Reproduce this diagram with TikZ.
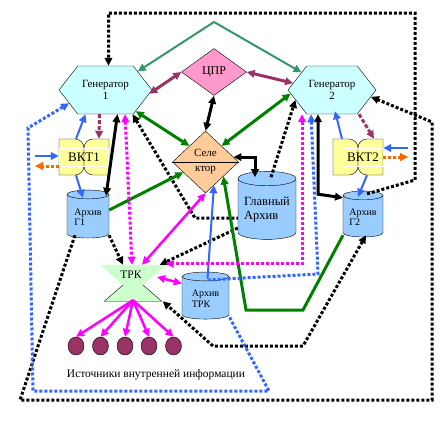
\documentclass[tikz,border=0pt]{standalone}
\usepackage{fontspec}
\setmainfont{Liberation Serif}
\usepackage{tikz}
\usetikzlibrary{shapes.geometric,shapes.symbols,arrows.meta}
\definecolor{gencyan}{HTML}{CCFFFF}
\definecolor{cprpink}{HTML}{FF99CC}
\definecolor{selpeach}{HTML}{FFCC99}
\definecolor{vktyellow}{HTML}{FFFF99}
\definecolor{arcblue}{HTML}{99CCFF}
\definecolor{trkgreen}{HTML}{CCFFCC}
\definecolor{plum}{HTML}{993366}
\definecolor{linkteal}{HTML}{339966}
\definecolor{linkgreen}{HTML}{008000}
\definecolor{linkblue}{HTML}{3366FF}
\definecolor{linkmag}{HTML}{FF00FF}
\definecolor{linkorange}{HTML}{FF6600}
\tikzset{>={Triangle[length=8pt,width=7.5pt]}}
\tikzset{
  gen/.style={signal, signal to=east and west, signal pointer angle=104,
    draw, fill=gencyan, minimum width=93pt, minimum height=48pt,
    inner sep=0pt, align=center, font=\fontsize{11}{12.5}\selectfont},
  cprnode/.style={diamond, draw, fill=cprpink, minimum width=65pt,
    minimum height=47pt, inner sep=0pt, font=\fontsize{12}{13}\selectfont},
  selnode/.style={diamond, draw, fill=selpeach, minimum width=66pt,
    minimum height=62pt, inner sep=0pt, align=center,
    font=\fontsize{11}{15}\selectfont},
  vktbox/.style={minimum width=50pt, minimum height=36pt, inner sep=0pt},
  vktfill/.style={draw, fill=vktyellow},
  vkttext/.style={draw=white, minimum height=18pt, inner sep=0pt,
    font=\fontsize{13}{14}\selectfont},
  archive/.style={cylinder, shape border rotate=90, aspect=0.3, draw,
    fill=arcblue, inner sep=1pt, align=left,
    font=\fontsize{10}{10.5}\selectfont},
  trkbox/.style={minimum width=65pt, minimum height=36pt, inner sep=0pt},
  src/.style={ellipse, draw, fill=plum, minimum width=16pt,
    minimum height=18pt, inner sep=0pt},
  lineblack/.style={black, line width=3pt},
  lineblue/.style={linkblue, line width=2pt},
  linegreen/.style={linkgreen, line width=3pt},
  lineteal/.style={linkteal, line width=2pt},
  lineplum/.style={plum, line width=3pt},
  linemag/.style={linkmag, line width=2.5pt},
  dotblack/.style={black, line width=3pt, dash pattern=on 3pt off 2pt},
  dotblue/.style={linkblue, line width=3pt, dash pattern=on 3pt off 2pt},
  dotmag/.style={linkmag, line width=3pt, dash pattern=on 3pt off 2pt},
  dotplum/.style={plum, line width=3pt, dash pattern=on 4pt off 2pt},
  dotorange/.style={linkorange, line width=3pt, dash pattern=on 3pt off 2pt},
}
\newcommand{\vktbody}[1]{%
  \begin{scope}[shift={(#1.center)}]
    \filldraw[vktfill] (-25,18) -- (-9,18) to[out=0,in=90] (0,9) -- (0,-9)
      to[out=-90,in=0] (-9,-18) -- (-25,-18) -- cycle;
    \filldraw[vktfill] (25,18) -- (9,18) to[out=180,in=90] (0,9) -- (0,-9)
      to[out=-90,in=180] (9,-18) -- (25,-18) -- cycle;
  \end{scope}}

\begin{document}
\begin{tikzpicture}[x=1pt,y=1pt]
  \useasboundingbox (0,0) rectangle (443,-432);

  % Nodes
  \node[gen]                       (g1)   at (105.5,-90) {Генератор\\1};
  \node[gen, minimum width=88pt]   (g2)   at (332,-90)   {Генератор\\2};
  \node[cprnode]                   (cpr)  at (214,-72)   {ЦПР};
  \node[selnode]                   (sel)  at (205.5,-162) {Селе\\ктор};
  \draw (sel.west) -- (sel.east);

  \node[vktbox] (vkt1) at (84,-157) {};
  \vktbody{vkt1}
  \node[vkttext, minimum width=49pt] (vkt1t) at (vkt1) {ВКТ1};
  \node[vktbox] (vkt2) at (358,-157) {};
  \vktbody{vkt2}
  \node[vkttext, minimum width=40pt] (vkt2t) at ([xshift=5pt]vkt2.center) {ВКТ2};

  \node[archive, minimum width=42pt, minimum height=48pt] (ag1) at (88,-217) {Архив\\Г1};
  \node[archive, minimum width=58pt, minimum height=68pt,
    font=\fontsize{12.5}{14}\selectfont] (main) at (267,-210) {Главный\\Архив};
  \node[archive, minimum width=40pt, minimum height=46pt] (ag2) at (363,-217) {Архив\\Г2};
  \node[archive, minimum width=47pt, minimum height=47pt] (atrk) at (205.5,-298.5) {Архив\\ТРК};

  \node[trkbox] (trk) at (133,-283) {};
  \fill[trkgreen] (trk.north west) -- (trk.north east)
    -- ([xshift=10pt,yshift=-2pt]trk.center) -- ([xshift=-10pt,yshift=-2pt]trk.center) -- cycle;
  \fill[trkgreen] ([xshift=-10pt,yshift=-2pt]trk.center) -- ([xshift=10pt,yshift=-2pt]trk.center)
    -- ([xshift=-4pt]trk.south east) -- ([xshift=4pt]trk.south west) -- cycle;
  \draw ([xshift=10pt,yshift=-2pt]trk.center) -- ([xshift=-4pt]trk.south east)
    -- ([xshift=4pt]trk.south west) -- ([xshift=-10pt,yshift=-2pt]trk.center);
  \node[font=\fontsize{11.5}{13}\selectfont] (trkt) at ([xshift=-2pt,yshift=8pt]trk.center) {ТРК};

  \foreach \i/\x in {1/76,2/100.5,3/125,4/149,5/173.5}
    \node[src] (src\i) at (\x,-346) {};
  \node[font=\fontsize{11.5}{13}\selectfont] (srclabel) at (156,-375)
    {Источники внутренней информации};

  % Edges
  \draw[dotblack,->] ([xshift=4pt,yshift=-3pt]ag2.north) -- (415,-180) -- (415,-13)
    -| ([xshift=3pt]g1.north);
  \draw[dotblack,->] ([xshift=-13pt,yshift=3pt]ag1.south) -- (20,-400) -- (432,-400)
    -- (432,-122) -- (g2.-10);
  \draw[dotblack,<->] ([xshift=3pt,yshift=2pt]ag2.south) -- (303,-346) -- (213,-346)
    -- ([xshift=-3pt]trk.south east);
  \draw[dotblack,->] ([xshift=21pt,yshift=3pt]ag1.south) -- ([xshift=-10pt]trk.north);
  \draw[dotblack,<-] ([xshift=27pt]g1.south) -- (195,-218) -- ([yshift=-8pt]main.west);
  \draw[dotblack,->] ([yshift=-18pt]main.west) -- ([xshift=-6pt]trk.north east);
  \draw[dotblack,->] ([xshift=4pt,yshift=-6pt]main.north) -- (g2.195);

  \draw[lineblack,<->] (cpr.south) -- (sel.north);
  \draw[lineblack,<->] (sel.10) -| ([xshift=-12pt,yshift=-6pt]main.north);
  \draw[lineblack,<->] ([xshift=12pt]g1.south) -- ([xshift=18pt,yshift=-6pt]ag1.north);
  \draw[lineblack,<->] ([xshift=-14pt]g2.south) -- ++(0,-80)
    -- ([xshift=-20pt,yshift=-7pt]ag2.north);

  \draw[lineteal,<->] (g1.30) -- (214,-22) -- (g2.150);
  \draw[lineplum,<->] (g1.-5) -- (cpr.west);
  \draw[lineplum,<->] (cpr.east) -- (g2.170);
  \draw[dotplum,->] ([xshift=-6pt]g1.south) -- ([xshift=15pt]vkt1.north);
  \draw[dotplum,->] ([xshift=27pt]g2.south) -- ([xshift=16pt]vkt2.north);

  \draw[lineblue,->] ([xshift=-8pt]vkt1.north) -- ([xshift=-20pt]g1.south);
  \draw[lineblue,->] ([xshift=-8pt]vkt1.south) -- ([xshift=-5pt,yshift=-8pt]ag1.north);
  \draw[lineblue,->] ([xshift=-24pt,yshift=1pt]vkt1.west) -- ([yshift=1pt]vkt1.west);
  \draw[dotorange,->] ([yshift=-9pt]vkt1.west) -- ++(-24,0);
  \draw[lineblue,->] ([xshift=-16pt]vkt2.north) -- ([xshift=3pt,yshift=3pt]g2.south);
  \draw[lineblue,->] ([xshift=9pt]vkt2.south) -- ([xshift=-5pt,yshift=-6pt]ag2.north);
  \draw[lineblue,->] ([xshift=25pt,yshift=9pt]vkt2.east) -- ([yshift=9pt]vkt2.east);
  \draw[dotorange,->] (vkt2.east) -- ++(25,0);

  \draw[linegreen,<->] (g1.-35) -- (sel.135);
  \draw[linegreen,<->] (g2.185) -- (sel.45);
  \draw[linegreen,->] ([yshift=7pt]ag1.east) -- (sel.205);
  \draw[linegreen,->] ([xshift=-20pt,yshift=2pt]ag2.south) -- (303,-310) -- (246,-310)
    -- (sel.-39);

  \draw[lineblue,->] ([xshift=2pt,yshift=-7pt]atrk.north) -- (sel.-70);
  \draw[linemag,<->] (sel.south) -- ([xshift=9pt]trk.north);
  \draw[linemag,<->] ([yshift=15pt]atrk.west) -- ([xshift=24pt,yshift=6pt]trk.center);
  \foreach \i in {1,...,5}
    \draw[linemag,->] ([yshift=1pt]trk.south) -- (src\i.north);

  \draw[dotmag,<->] ([xshift=19.5pt]g1.south) -- ([xshift=-1pt]trk.north);
  \draw[dotmag,<->] ([xshift=-30pt]g2.south) |- ([yshift=1pt]trk.north east);
  \draw[dotblue,<-] (g1.200) -- (28,-128) -- (33,-391) -- (269,-391)
    -- ([xshift=23pt,yshift=4pt]atrk.south);
  \draw[dotblue,<-] ([xshift=-21pt]g2.south) -- (318,-274)
    -- ([xshift=3pt,yshift=-8pt]atrk.north);

\end{tikzpicture}
\end{document}
